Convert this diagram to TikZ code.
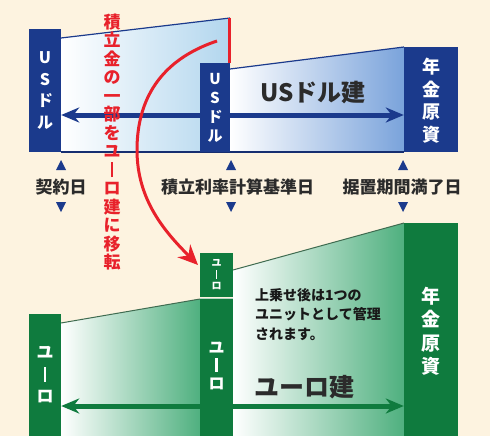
\documentclass[tikz,border=0pt]{standalone}
\usepackage{fontspec}
\setmainfont{Noto Sans CJK JP}
\usetikzlibrary{arrows.meta}
\definecolor{bg}{HTML}{FDF3E0}
\definecolor{navy}{HTML}{1B3A8C}
\definecolor{dgreen}{HTML}{0F7B3E}
\definecolor{redc}{HTML}{E8212B}
\definecolor{txt}{HTML}{2B2B2B}
\definecolor{lblue}{HTML}{B2D6EE}
\definecolor{mblue}{HTML}{7AA3DB}
\definecolor{lgreen}{HTML}{4FB07F}
\definecolor{gline}{HTML}{3F6B50}
\newcommand{\vbar}{\makebox[1em]{\rule[-0.05em]{0.15em}{0.88em}}}
\newcommand{\fs}[2]{\fontsize{#1}{#2}\selectfont\bfseries}
\begin{document}
\begin{tikzpicture}[x=1pt,y=-1pt,
  bluebar/.style={rectangle, fill=navy, inner sep=0pt, text=white, align=center},
  greenbar/.style={rectangle, fill=dgreen, inner sep=0pt, text=white, align=center},
  lbl/.style={text=txt, inner sep=0pt, font=\fs{17}{20}},
  tri/.style={fill=navy},
  bigarrow/.style={line width=5pt, {Stealth[length=18pt,width=15pt]}-{Stealth[length=18pt,width=15pt]}}
]
\fill[bg] (0,0) rectangle (490,436);
\useasboundingbox (0,0) rectangle (490,436);

% ---------- top (US dollar) ----------
\shade[left color=white, right color=lblue] (61,38) -- (230,18) -- (230,152) -- (61,152) -- cycle;
\shade[left color=white, right color=mblue] (230,69) -- (404,47) -- (404,152) -- (230,152) -- cycle;
\draw[navy, line width=1.2pt] (61,38) -- (230,18);
\draw[navy, line width=1.2pt] (230,69) -- (404,47);
\draw[navy!80!black, line width=1.2pt] (61,152) -- (404,152);

\node[bluebar, minimum width=32pt, minimum height=123pt] (b1) at (45,90.5) {};
\node[bluebar, minimum width=30pt, minimum height=89pt] (b2) at (215,107.5) {};
\node[bluebar, minimum width=54pt, minimum height=105pt] (b3) at (431,99.5) {};

\coordinate (ya) at (0,115);
\draw[navy, bigarrow] (b1.east |- ya) -- (b3.west |- ya);
\fill[navy] (b2.north west) rectangle (b2.south east);

\node[text=white, align=center, font=\fs{16}{21.5}] at (b1) {U\\S\\ド\\ル};
\node[text=white, align=center, font=\fs{15}{19}] at (b2) {U\\S\\ド\\ル};
\node[text=white, align=center, font=\fs{18}{22.5}] at ([yshift=-1pt]b3.center) {年\\金\\原\\資};
\node[text=txt, font=\fs{24}{28}] (usd) at (313,93) {USドル建};

\draw[redc, line width=3pt] (229,18) -- (229,63);

% ---------- date labels ----------
\node[lbl] (d1) at (61,187) {契約日};
\node[lbl] (d2) at (237.5,187) {積立利率計算基準日};
\node[lbl] (d3) at (402,187) {据置期間満了日};
\foreach \x in {61,231,403}{
  \fill[tri] (\x-5,170) -- (\x+5,170) -- (\x,160) -- cycle;
  \fill[tri] (\x-5,202) -- (\x+5,202) -- (\x,212) -- cycle;
}

% ---------- bottom (Euro) ----------
\shade[left color=white, right color=lgreen] (61,323) -- (200,299) -- (200,436) -- (61,436) -- cycle;
\shade[left color=white, right color=lgreen] (233,270) -- (404,223) -- (404,436) -- (233,436) -- cycle;
\draw[gline, line width=1pt] (61,323) -- (200,299);
\draw[gline, line width=1pt] (233,270) -- (404,223);

\node[greenbar, minimum width=32pt, minimum height=122pt] (g1) at (45,375) {};
\node[greenbar, minimum width=33pt, minimum height=44pt] (g2) at (216.5,275) {};
\node[greenbar, minimum width=33pt, minimum height=137pt] (g3) at (216.5,367.5) {};
\node[greenbar, minimum width=54pt, minimum height=213pt] (g4) at (431,329.5) {};

\coordinate (yb) at (0,406);
\draw[dgreen, bigarrow] (g1.east |- yb) -- (g4.west |- yb);
\fill[dgreen] (g3.north west) rectangle (g3.south east);
\draw[white!70!dgreen, line width=1pt] (g3.north west) -- (g3.north east);

\node[text=white, align=center, font=\fs{17}{22}] at (g1) {ユ\\\vbar\\ロ};
\node[text=white, align=center, font=\fs{10}{11.5}] at (g2) {ユ\\\vbar\\ロ};
\node[text=white, align=center, font=\fs{16}{18}] at ([yshift=2pt]g3.center) {ユ\\\vbar\\ロ};
\node[text=white, align=center, font=\fs{19}{23.5}] at ([yshift=-2pt]g4.center) {年\\金\\原\\資};

\node[text=txt, font=\fs{25}{28}] (eur) at (304,387) {ユーロ建};
\node[text=black!90, anchor=north west, align=left, inner sep=0pt, font=\fs{14}{19.5}] (note) at (255,288) {上乗せ後は1つの\\ユニットとして管理\\されます。};

% ---------- red transfer ----------
\coordinate (tip) at (198,265);
\draw[redc, line width=3pt, -{Stealth[length=20pt,width=18pt]}] (217,41) .. controls (160,60) and (137,100) .. (137,150) .. controls (137,200) and (165,232) .. (tip);
\node[text=redc, align=center, inner sep=0pt, font=\fs{17}{18.5}] (red) at (112,142) {積\\立\\金\\の\\一\\部\\を\\ユ\\\vbar\\ロ\\建\\に\\移\\転};
\end{tikzpicture}
\end{document}
